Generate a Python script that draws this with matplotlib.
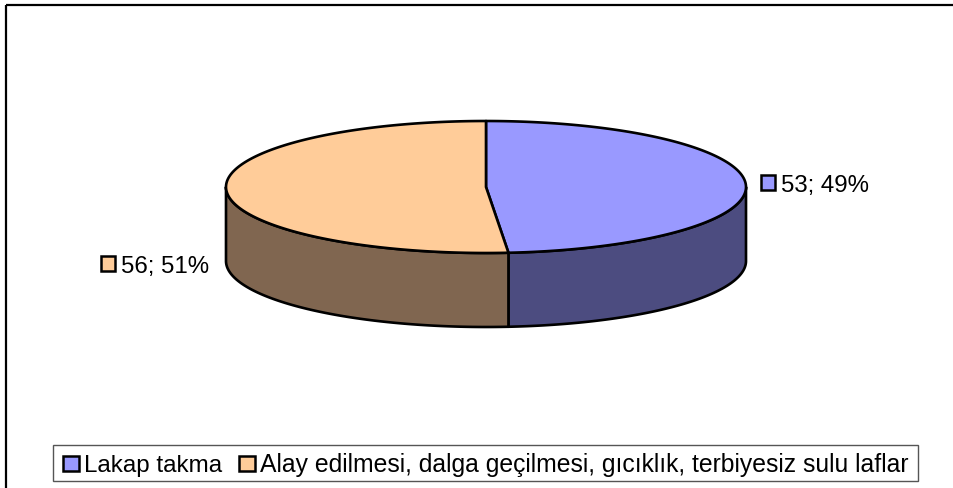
import numpy as np
import matplotlib.pyplot as plt
from matplotlib.patches import Polygon, Rectangle

plt.rcParams['font.family'] = ['Liberation Sans', 'DejaVu Sans']

# Data
labels = ["Lakap takma",
          "Alay edilmesi, dalga geçilmesi, gıcıklık, terbiyesiz sulu laflar"]
values = [53, 56]
top_colors = ["#9999FF", "#FFCC99"]
side_colors = ["#4C4C80", "#806650"]

W, H = 954, 488
fig = plt.figure(figsize=(W / 100, H / 100), dpi=100)
ax = fig.add_axes([0, 0, 1, 1])
ax.set_xlim(0, W)
ax.set_ylim(H, 0)
ax.axis('off')

# Outer chart frame (top and left edges)
ax.plot([6.5, W], [4.5, 4.5], color='black', lw=1.6, solid_capstyle='butt')
ax.plot([6.5, 6.5], [4.5, H], color='black', lw=1.6, solid_capstyle='butt')

# 3D pie geometry (pixel units)
cx, cy, rx, ry, depth = 486, 187, 260, 66, 74
edge_lw = 1.9


def pt(theta_deg, dy=0.0):
    t = np.radians(theta_deg)
    return cx + rx * np.cos(t), cy - ry * np.sin(t) + dy


def arc(a, b, dy=0.0, n=200):
    th = np.linspace(a, b, n)
    xs, ys = pt(th, dy)
    return np.column_stack([xs, ys])


total = float(sum(values))
angles = [90.0]
for v in values:
    angles.append(angles[-1] - 360.0 * v / total)

# Front side walls
for i, v in enumerate(values):
    hi, lo = angles[i], angles[i + 1]
    for k in (-1, 0, 1):
        f_lo, f_hi = -180 + 360 * k, 360 * k
        s_lo, s_hi = max(lo, f_lo), min(hi, f_hi)
        if s_hi > s_lo:
            top = arc(s_lo, s_hi)
            bot = arc(s_hi, s_lo, dy=depth)
            poly = Polygon(np.vstack([top, bot]), closed=True,
                           facecolor=side_colors[i], edgecolor='black',
                           lw=edge_lw, joinstyle='round')
            ax.add_patch(poly)

# Top faces
for i, v in enumerate(values):
    hi, lo = angles[i], angles[i + 1]
    pts = np.vstack([[cx, cy], arc(hi, lo)])
    ax.add_patch(Polygon(pts, closed=True, facecolor=top_colors[i],
                         edgecolor='black', lw=edge_lw, joinstyle='round'))

# Data labels "value; percent"
pcts = [round(100 * v / total) for v in values]
fs = 17.3
label_pos = [(cx + rx + 15, 192), (cx - rx - 125, 273)]
for i, v in enumerate(values):
    lx, ly = label_pos[i]
    ax.add_patch(Rectangle((lx, ly - 17), 14, 15, facecolor=top_colors[i],
                           edgecolor='black', lw=1.8))
    ax.text(lx + 20, ly, f"{v}; {pcts[i]}%", fontsize=fs,
            ha='left', va='baseline', color='black')

# Legend
ax.add_patch(Rectangle((53.5, 444.5), 864.5, 36.5, facecolor='white',
                       edgecolor='#555555', lw=1.0))
fig.canvas.draw()
renderer = fig.canvas.get_renderer()
x = 63
base = 472
legend_fs = [17.4, 17.8]
for i, lab in enumerate(labels):
    ax.add_patch(Rectangle((x, base - 16), 16, 15, facecolor=top_colors[i],
                           edgecolor='black', lw=1.8))
    t = ax.text(x + 21, base, lab, fontsize=legend_fs[i], ha='left',
                va='baseline', color='black')
    bb = t.get_window_extent(renderer=renderer)
    x = bb.x1 + 17

fig.savefig('out.png', dpi=100)
